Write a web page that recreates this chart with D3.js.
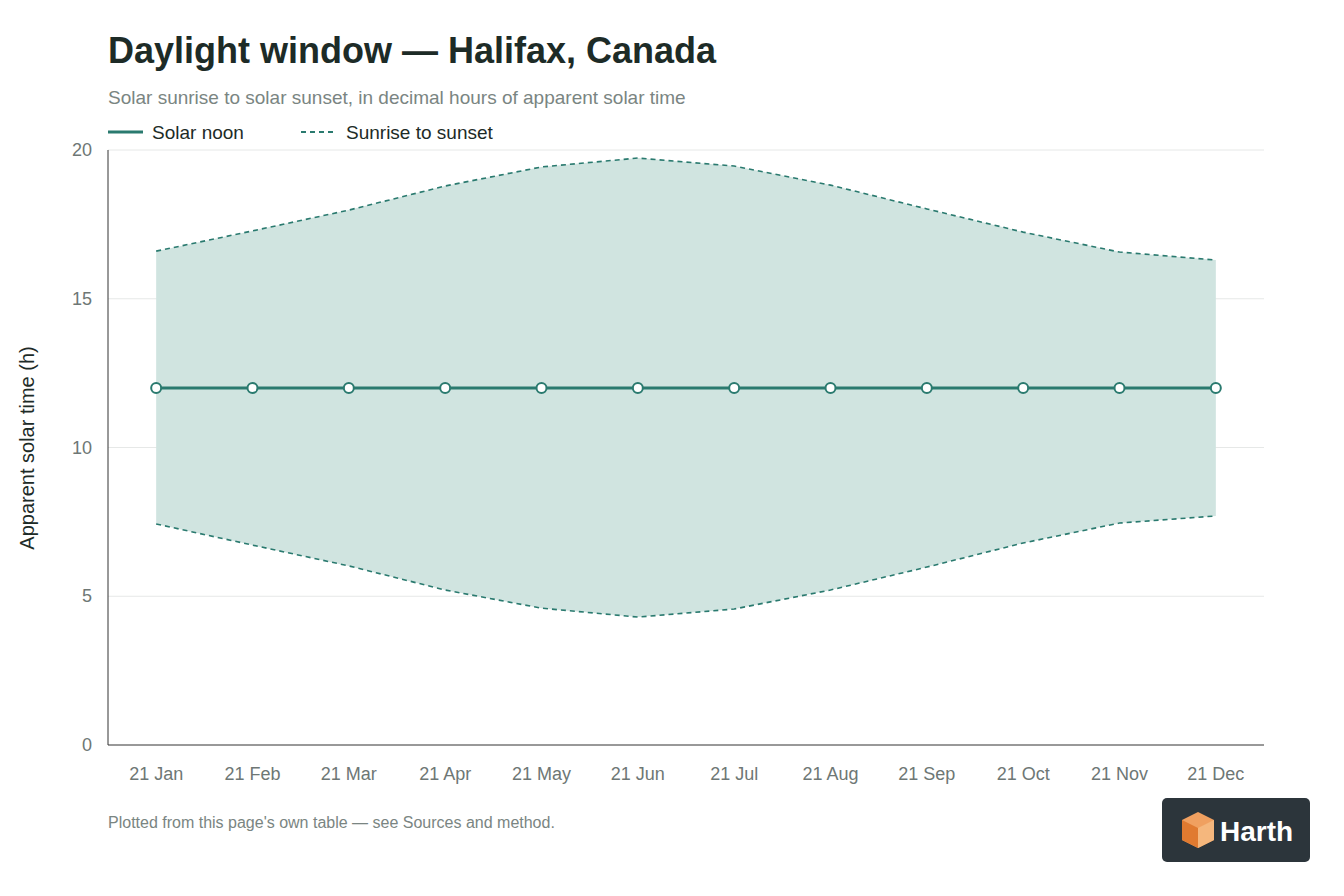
<!DOCTYPE html>
<html><head><meta charset="utf-8">
<script src="https://cdn.jsdelivr.net/npm/d3@7"></script>
<style>body{margin:0;background:#fff;font-family:"Helvetica Neue",Arial,"Liberation Sans",sans-serif}</style>
</head><body><svg id="c" width="1344" height="896"></svg>
<script>
const months = ["21 Jan","21 Feb","21 Mar","21 Apr","21 May","21 Jun","21 Jul","21 Aug","21 Sep","21 Oct","21 Nov","21 Dec"];
const noon = [12,12,12,12,12,12,12,12,12,12,12,12];
const sunrise = [7.43,6.72,6.02,5.21,4.6,4.3,4.57,5.21,5.98,6.79,7.46,7.7];
const sunset = [16.6,17.28,17.98,18.79,19.43,19.73,19.46,18.82,18.02,17.24,16.57,16.3];
const yTicks = [0,5,10,15,20];

const svg = d3.select("#c");
const L=108,R=1264,T=150,B=745;
const x = d3.scalePoint().domain(months).range([L,R]).padding(0.5);
const y = d3.scaleLinear().domain([0,20]).range([B,T]);
const teal="#2a7a6f";

svg.append("text").attr("x",108).attr("y",63).attr("font-size",36).attr("font-weight",700).attr("fill","#1d2b27").text("Daylight window — Halifax, Canada");
svg.append("text").attr("x",108).attr("y",104).attr("font-size",19).attr("fill","#7a8582").text("Solar sunrise to solar sunset, in decimal hours of apparent solar time");
// legend
svg.append("line").attr("x1",108).attr("x2",143).attr("y1",132).attr("y2",132).attr("stroke",teal).attr("stroke-width",3);
svg.append("text").attr("x",152).attr("y",139).attr("font-size",19).attr("fill","#1d2b27").text("Solar noon");
svg.append("line").attr("x1",301).attr("x2",336).attr("y1",132).attr("y2",132).attr("stroke",teal).attr("stroke-width",2).attr("stroke-dasharray","5,4");
svg.append("text").attr("x",346).attr("y",139).attr("font-size",19).attr("fill","#1d2b27").text("Sunrise to sunset");

// grid
svg.append("g").selectAll("line").data(yTicks.filter(d=>d>0)).join("line")
 .attr("x1",L).attr("x2",R).attr("y1",d=>y(d)).attr("y2",d=>y(d)).attr("stroke","#e6e8e7");
svg.append("g").selectAll("text").data(yTicks).join("text")
 .attr("x",92).attr("y",d=>y(d)+6).attr("text-anchor","end").attr("font-size",18).attr("fill","#6e7775").text(d=>d);
svg.append("text").attr("transform","translate(34,448) rotate(-90)").attr("text-anchor","middle").attr("font-size",20).attr("fill","#1d2b27").text("Apparent solar time (h)");

const idx = d3.range(months.length);
svg.append("path").datum(idx).attr("fill","#d0e4e0")
 .attr("d",d3.area().x(i=>x(months[i])).y0(i=>y(sunrise[i])).y1(i=>y(sunset[i])));
const ln = arr => d3.line().x(i=>x(months[i])).y(i=>y(arr[i]));
[sunrise,sunset].forEach(a=>svg.append("path").datum(idx).attr("fill","none").attr("stroke",teal).attr("stroke-width",1.6).attr("stroke-dasharray","5,4").attr("d",ln(a)));
svg.append("path").datum(idx).attr("fill","none").attr("stroke",teal).attr("stroke-width",3).attr("d",ln(noon));
svg.append("g").selectAll("circle").data(idx).join("circle")
 .attr("cx",i=>x(months[i])).attr("cy",i=>y(noon[i])).attr("r",5).attr("fill","#fff").attr("stroke",teal).attr("stroke-width",2);

// axes
svg.append("line").attr("x1",L).attr("x2",L).attr("y1",T).attr("y2",B).attr("stroke","#333");
svg.append("line").attr("x1",L).attr("x2",R).attr("y1",B).attr("y2",B).attr("stroke","#333");
svg.append("g").selectAll("text").data(months).join("text")
 .attr("x",d=>x(d)).attr("y",780).attr("text-anchor","middle").attr("font-size",18).attr("fill","#6e7775").text(d=>d);

svg.append("text").attr("x",108).attr("y",828).attr("font-size",16).attr("fill","#7a8582").text("Plotted from this page's own table — see Sources and method.");

// logo
const g = svg.append("g").attr("transform","translate(1162,798)");
g.append("rect").attr("width",148).attr("height",64).attr("rx",5).attr("fill","#2c353b");
g.append("path").attr("d","M20,22 L36,14 L52,22 L52,42 L36,50 L20,42 Z").attr("fill","#f0a060");
g.append("path").attr("d","M20,22 L36,30 L36,50 L20,42 Z").attr("fill","#e07a30");
g.append("path").attr("d","M36,30 L52,22 L52,42 L36,50 Z").attr("fill","#f5b77d");
g.append("text").attr("x",58).attr("y",43).attr("font-size",28).attr("font-weight",700).attr("fill","#fff").text("Harth");
</script></body></html>
